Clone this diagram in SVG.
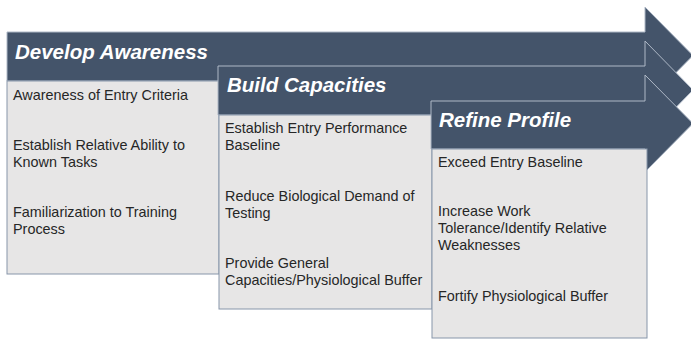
<svg xmlns="http://www.w3.org/2000/svg" width="691" height="339" viewBox="0 0 691 339">
<style>
.arrow{fill:#44546a;stroke:#aeb8c6;stroke-width:1}
.box{fill:#e7e6e6;stroke:#8796aa;stroke-width:1}
.hdr{font-family:"Liberation Sans",Arial,sans-serif;font-weight:bold;font-style:italic;font-size:20.5px;fill:#ffffff}
.txt{font-family:"Liberation Sans",Arial,sans-serif;font-size:14.4px;fill:#262626}
</style>
<rect width="691" height="339" fill="#ffffff"/>
<g id="connectors"></g>
<g id="stage1">
<path class="arrow" d="M7,32 H645 V7 L693,55.5 L645,104 V81 H7 Z"/>
<rect class="box" x="7" y="81" width="212" height="193"/>
<text class="hdr" x="15" y="59">Develop Awareness</text>
<text class="txt" x="13" y="100">Awareness of Entry Criteria</text>
<text class="txt" x="13" y="150">Establish Relative Ability to</text>
<text class="txt" x="13" y="167">Known Tasks</text>
<text class="txt" x="13" y="217">Familiarization to Training</text>
<text class="txt" x="13" y="234">Process</text>
</g>
<g id="stage2">
<path class="arrow" d="M218,66 H645 V41 L693,90 L645,139 V115 H218 Z"/>
<rect class="box" x="219" y="115" width="213" height="194"/>
<text class="hdr" x="227" y="92">Build Capacities</text>
<text class="txt" x="225" y="133">Establish Entry Performance</text>
<text class="txt" x="225" y="150">Baseline</text>
<text class="txt" x="225" y="201">Reduce Biological Demand of</text>
<text class="txt" x="225" y="218">Testing</text>
<text class="txt" x="225" y="268">Provide General</text>
<text class="txt" x="225" y="285">Capacities/Physiological Buffer</text>
</g>
<g id="stage3">
<path class="arrow" d="M431,101 H645 V75 L693,123.5 L645,172 V149 H431 Z"/>
<rect class="box" x="432" y="149" width="215" height="189"/>
<text class="hdr" x="439" y="127">Refine Profile</text>
<text class="txt" x="438" y="167">Exceed Entry Baseline</text>
<text class="txt" x="438" y="216">Increase Work</text>
<text class="txt" x="438" y="233">Tolerance/Identify Relative</text>
<text class="txt" x="438" y="250">Weaknesses</text>
<text class="txt" x="438" y="301">Fortify Physiological Buffer</text>
</g>
</svg>
